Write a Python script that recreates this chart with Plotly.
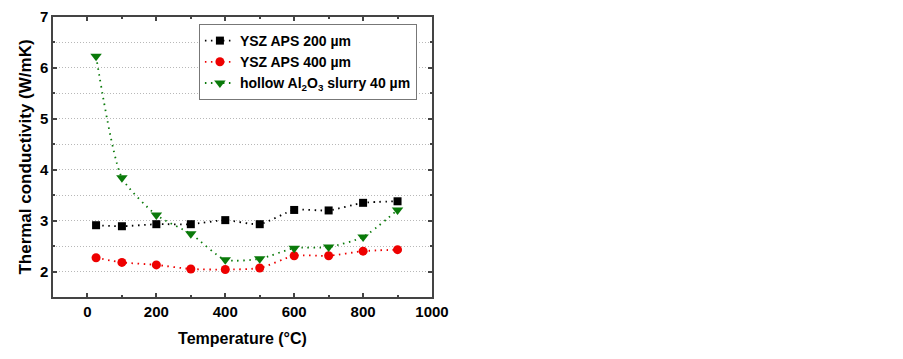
import plotly.graph_objects as go

temps = [25, 100, 200, 300, 400, 500, 600, 700, 800, 900]
ysz200 = [2.91, 2.89, 2.93, 2.93, 3.01, 2.93, 3.21, 3.20, 3.35, 3.38]
ysz400 = [2.27, 2.18, 2.13, 2.05, 2.04, 2.07, 2.31, 2.31, 2.40, 2.43]
hollow = [6.23, 3.84, 3.11, 2.74, 2.23, 2.25, 2.46, 2.48, 2.68, 3.21]
names = ["YSZ APS 200 µm", "YSZ APS 400 µm", "hollow Al<sub>2</sub>O<sub>3</sub> slurry 40 µm"]
xticks = [0, 200, 400, 600, 800, 1000]
yticks = [2, 3, 4, 5, 6, 7]

FONT = "Arial, Liberation Sans, sans-serif"
fig = go.Figure()
series = [
    (ysz200, "black", "square", 8),
    (ysz400, "#ee0000", "circle", 9),
    (hollow, "#0a7a0a", "triangle-down", 10),
]
for (vals, col, sym, sz), nm in zip(series, names):
    fig.add_trace(go.Scatter(
        x=temps, y=vals, name=nm, mode="lines+markers",
        line=dict(color=col, dash="1.5px,4.5px", width=1.8, shape="spline", smoothing=0.6),
        marker=dict(color=col, symbol=sym, size=sz),
    ))

axcol = "#444444"
gridcol = "#b8b8b8"
fig.update_layout(
    width=903, height=359,
    margin=dict(l=53, r=471, t=17, b=62),
    plot_bgcolor="white", paper_bgcolor="white",
    font=dict(family=FONT, color="black"),
    showlegend=True,
    legend=dict(
        x=0.385, y=0.975, xanchor="left", yanchor="top",
        bordercolor="#777777", borderwidth=1, bgcolor="white",
        font=dict(size=14, family=FONT, weight="bold"),
        tracegroupgap=0, itemwidth=30,
    ),
    xaxis=dict(
        range=[-100, 1000], tickvals=xticks, ticktext=[str(v) for v in xticks],
        showgrid=False, zeroline=False, automargin=False,
        showline=True, linecolor=axcol, linewidth=1.5, mirror="ticks",
        ticks="inside", ticklen=4, tickcolor=axcol, tickwidth=1.5,
        minor=dict(dtick=100, ticks="inside", ticklen=2, tickcolor=axcol),
        tickfont=dict(size=15, weight="bold"),
        title=dict(text="Temperature (°C)", font=dict(size=16, weight="bold"), standoff=14),
    ),
    yaxis=dict(
        range=[1.5, 7], tickvals=yticks, ticktext=[str(v) for v in yticks],
        showgrid=True, gridcolor=gridcol, griddash="1px,2px", gridwidth=1,
        zeroline=False, automargin=False,
        showline=True, linecolor=axcol, linewidth=1.5, mirror="ticks",
        ticks="inside", ticklen=4, tickcolor=axcol, tickwidth=1.5,
        minor=dict(dtick=0.5, tick0=0, ticks="inside", ticklen=2, tickcolor=axcol,
                   showgrid=True, gridcolor=gridcol, griddash="1px,2px", gridwidth=1),
        tickfont=dict(size=15, weight="bold"),
        title=dict(text="Thermal conductivity (W/mK)", font=dict(size=17, weight="bold"), standoff=4),
    ),
)
fig.write_html("out.html", config={"displayModeBar": False},
               post_script="document.body.style.margin='0';document.body.style.overflow='hidden';")
